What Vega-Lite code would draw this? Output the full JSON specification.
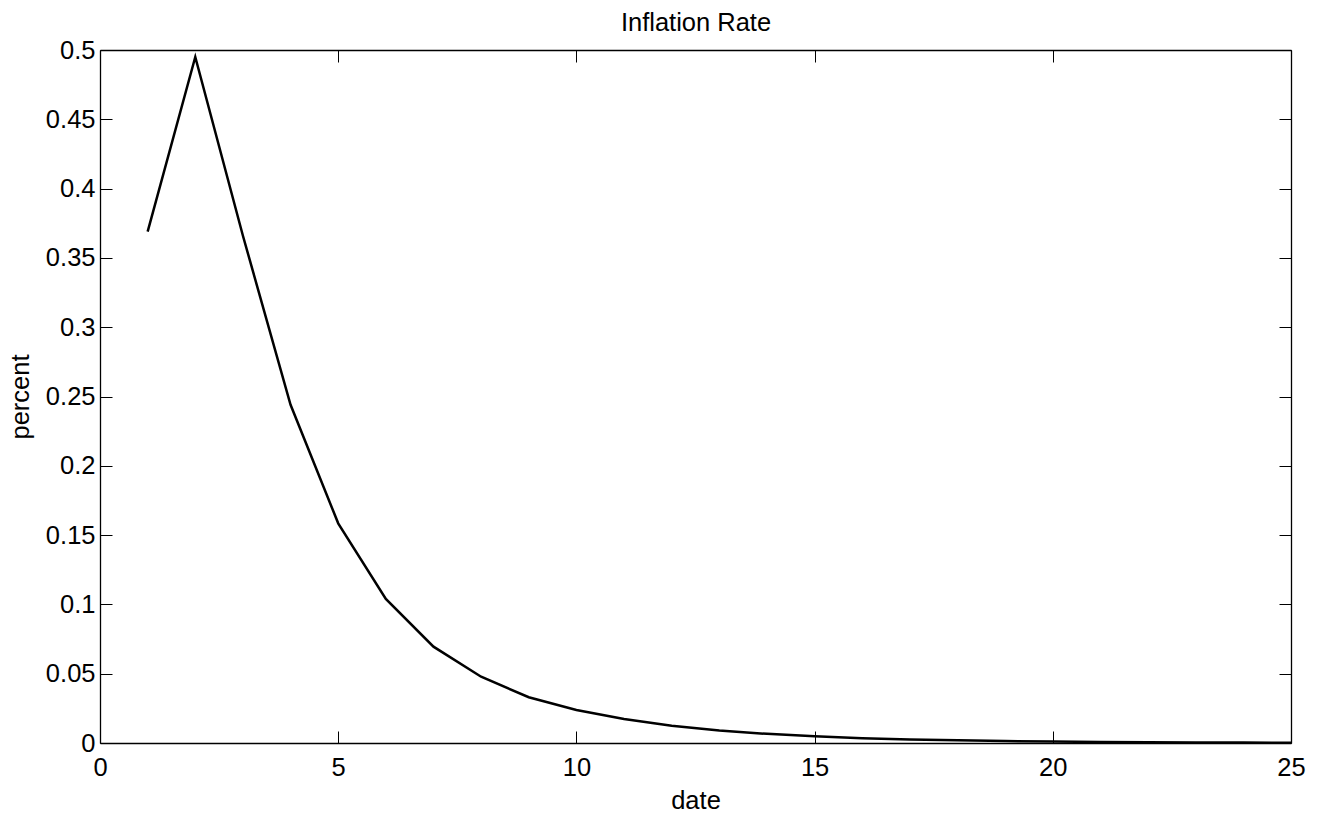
{
  "$schema": "https://vega.github.io/schema/vega-lite/v6.json",
  "autosize": {"type": "none"},
  "padding": {"left": 100, "top": 50, "right": 28, "bottom": 73},
  "width": 1191,
  "height": 693,
  "background": "white",
  "config": {
    "view": {"stroke": null},
    "axis": {"grid": false, "domainColor": "black", "domainWidth": 1.3, "tickColor": "black", "tickWidth": 1, "tickSize": -12, "labelFont": "Liberation Sans", "labelFontSize": 25.5, "labelColor": "black", "titleFont": "Liberation Sans", "titleFontSize": 25.5, "titleFontWeight": "normal", "titleColor": "black"}
  },
  "data": {"values": [
    {"date": 1, "percent": 0.369},
    {"date": 2, "percent": 0.495},
    {"date": 3, "percent": 0.366},
    {"date": 4, "percent": 0.244},
    {"date": 5, "percent": 0.1585},
    {"date": 6, "percent": 0.104},
    {"date": 7, "percent": 0.0695},
    {"date": 8, "percent": 0.0478},
    {"date": 9, "percent": 0.033},
    {"date": 10, "percent": 0.0238},
    {"date": 11, "percent": 0.0173},
    {"date": 12, "percent": 0.0125},
    {"date": 13, "percent": 0.0091},
    {"date": 14, "percent": 0.0066},
    {"date": 15, "percent": 0.0048},
    {"date": 16, "percent": 0.0035},
    {"date": 17, "percent": 0.0026},
    {"date": 18, "percent": 0.0019},
    {"date": 19, "percent": 0.0014},
    {"date": 20, "percent": 0.001},
    {"date": 21, "percent": 0.0008},
    {"date": 22, "percent": 0.0006},
    {"date": 23, "percent": 0.0004},
    {"date": 24, "percent": 0.0003},
    {"date": 25, "percent": 0.0002}
  ]},
  "resolve": {"axis": {"x": "independent", "y": "independent"}},
  "layer": [
    {
      "mark": {"type": "line", "color": "black", "strokeWidth": 2.5},
      "encoding": {
        "x": {"field": "date", "type": "quantitative", "scale": {"domain": [0, 25], "nice": false, "zero": false},
              "axis": {"orient": "bottom", "title": "date", "values": [0, 5, 10, 15, 20, 25], "format": "d", "labelPadding": 24, "labelFlush": false, "titleBaseline": "alphabetic", "titleY": 65}},
        "y": {"field": "percent", "type": "quantitative", "scale": {"domain": [0, 0.5], "nice": false},
              "axis": {"orient": "left", "title": "percent", "values": [0, 0.05, 0.1, 0.15, 0.2, 0.25, 0.3, 0.35, 0.4, 0.45, 0.5], "format": "~g", "labelPadding": 17, "labelFlush": false, "titleBaseline": "alphabetic", "titleX": -72}}
      }
    },
    {
      "mark": {"type": "line", "color": "black", "strokeOpacity": 0},
      "encoding": {
        "x": {"field": "date", "type": "quantitative", "scale": {"domain": [0, 25], "nice": false, "zero": false},
              "axis": {"orient": "top", "title": "Inflation Rate", "titleBaseline": "alphabetic", "titleY": -20, "values": [0, 5, 10, 15, 20, 25], "labels": false}},
        "y": {"field": "percent", "type": "quantitative", "scale": {"domain": [0, 0.5], "nice": false},
              "axis": {"orient": "right", "title": null, "values": [0, 0.05, 0.1, 0.15, 0.2, 0.25, 0.3, 0.35, 0.4, 0.45, 0.5], "labels": false}}
      }
    }
  ]
}
